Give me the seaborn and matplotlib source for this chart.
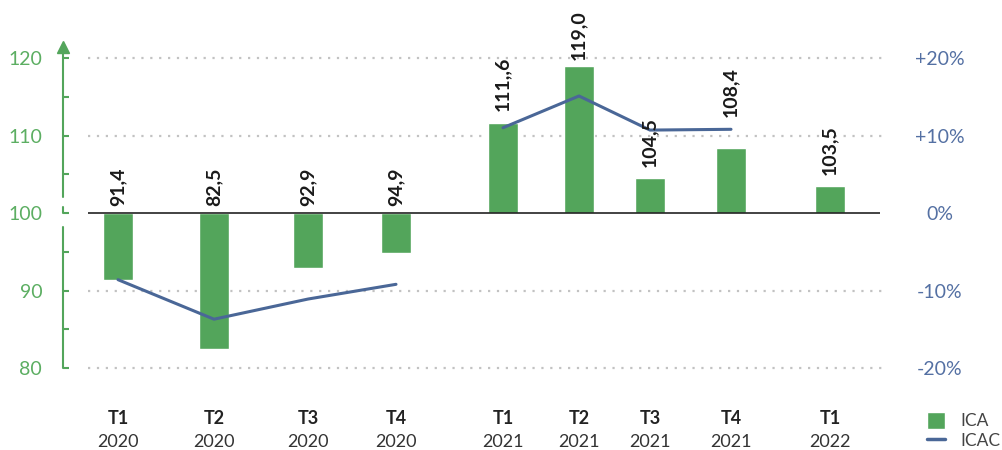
import numpy as np
import pandas as pd
import matplotlib
matplotlib.use('Agg')
import matplotlib.pyplot as plt
import seaborn as sns
from matplotlib.patches import Patch
from matplotlib.lines import Line2D

# data
quarters = ['T1', 'T2', 'T3', 'T4', 'T1', 'T2', 'T3', 'T4', 'T1']
years = ['2020', '2020', '2020', '2020', '2021', '2021', '2021', '2021', '2022']
ica = [91.4, 82.5, 92.9, 94.9, 111.6, 119.0, 104.5, 108.4, 103.5]
icac = [-8.6, -13.7, -11.1, -9.2, 11.0, 15.1, 10.7, 10.8, np.nan]
value_labels = ['91,4', '82,5', '92,9', '94,9', '111,,6', '119,0', '104,5', '108,4', '103,5']
left_ticks = ['80', '90', '100', '110', '120']
right_ticks = ['-20%', '-10%', '0%', '+10%', '+20%']

# layout (x slots in pixel units of the figure, irregular like the original)
slot_x = [118, 214, 308, 396, 503, 579, 650, 731, 830]
label_pad = [5, 5, 5, 5, 8.6, 4.3, 8, 22, 8]   # points above bar top / baseline

green = '#53a55b'
green_txt = '#5cae62'
blue = '#4a6797'
blue_txt = '#5470a3'

sns.set_style('white')
plt.rcParams['font.family'] = ['Lato', 'DejaVu Sans']

df = pd.DataFrame({
    'x': slot_x,
    'delta': np.array(ica) - 100,
    'icac': icac,
    'year': years,
})

fig = plt.figure(figsize=(10.03, 4.5), dpi=100)
ax = fig.add_axes([63 / 1003, 78.1 / 450, 822 / 1003, 329.4 / 450])

# dotted grid and baseline
for v in [-20, -10, 10, 20]:
    ax.hlines(v, 88, 885, colors='#c2c2c2', linestyles=(0, (1, 3)), lw=1.6, zorder=0)
ax.hlines(0, 88, 880, colors='#222222', lw=1.2, zorder=3)

sns.barplot(data=df, x='x', y='delta', native_scale=True, width=30 / 71,
            color=green, saturation=1, errorbar=None, ax=ax, zorder=2)
sns.lineplot(data=df.dropna(), x='x', y='icac', units='year', estimator=None,
             color=blue, lw=2.2, ax=ax, zorder=4)

ax.set_xlim(63, 885)
ax.set_ylim(-20.5, 22)
ax.set_xlabel('')
ax.set_ylabel('')
for s in ax.spines.values():
    s.set_visible(False)

# value labels
for x, d, lbl, p in zip(slot_x, df['delta'], value_labels, label_pad):
    ax.annotate(lbl, (x, max(d, 0)), xytext=(0, p), textcoords='offset points',
                rotation=90, ha='center', va='bottom', fontsize=14,
                fontweight='bold', color='#1a1a1a', zorder=5)

# x labels: quarter (bold) over year
ax.set_xticks([])
tr = ax.get_xaxis_transform()
for x, q, y in zip(slot_x, quarters, years):
    ax.text(x, -0.140, q, transform=tr, ha='center', va='center',
            fontsize=13, fontweight='bold', color='#222222')
    ax.text(x, -0.213, y, transform=tr, ha='center', va='center',
            fontsize=13, color='#333333')

# left axis: broken green line with arrow
ytr = ax.get_yaxis_transform()
ax.plot([0, 0], [-20, -1.8], transform=ytr, color=green, lw=1.5, clip_on=False)
ax.plot([0, 0], [2.1, 21], transform=ytr, color=green, lw=1.5, clip_on=False)
ax.plot([0, 0], [0, 0.8], transform=ytr, color=green, lw=1.5, clip_on=False)
ax.plot(0, 21.4, marker='^', ms=8.5, color=green, transform=ytr, clip_on=False)

ax.set_yticks(np.arange(-20, 21, 5))
ax.set_yticklabels([left_ticks[i // 2] if i % 2 == 0 else '' for i in range(9)])
ax.tick_params(axis='y', direction='in', length=4.3, width=1.5, color=green,
               labelcolor=green_txt, labelsize=14, pad=15)

# right axis: percent change
ax2 = ax.twinx()
ax2.set_ylim(ax.get_ylim())
ax2.set_yticks([-20, -10, 0, 10, 20])
ax2.set_yticklabels(right_ticks)
ax2.tick_params(axis='y', length=0, pad=39.6, labelcolor=blue_txt, labelsize=14)
for t in ax2.get_yticklabels():
    t.set_horizontalalignment('center')
for s in ax2.spines.values():
    s.set_visible(False)

handles = [Patch(facecolor=green, label='ICA'),
           Line2D([0], [0], color=blue, lw=2.5, label='ICAC')]
fig.legend(handles=handles, loc='upper left', bbox_to_anchor=(915 / 1003, 1 - 400 / 450),
           frameon=False, fontsize=12.5, handlelength=1.0, handleheight=1.1,
           labelspacing=0.15, handletextpad=0.9, borderpad=0.2, labelcolor='#444444')

fig.savefig('out.png', dpi=100)
